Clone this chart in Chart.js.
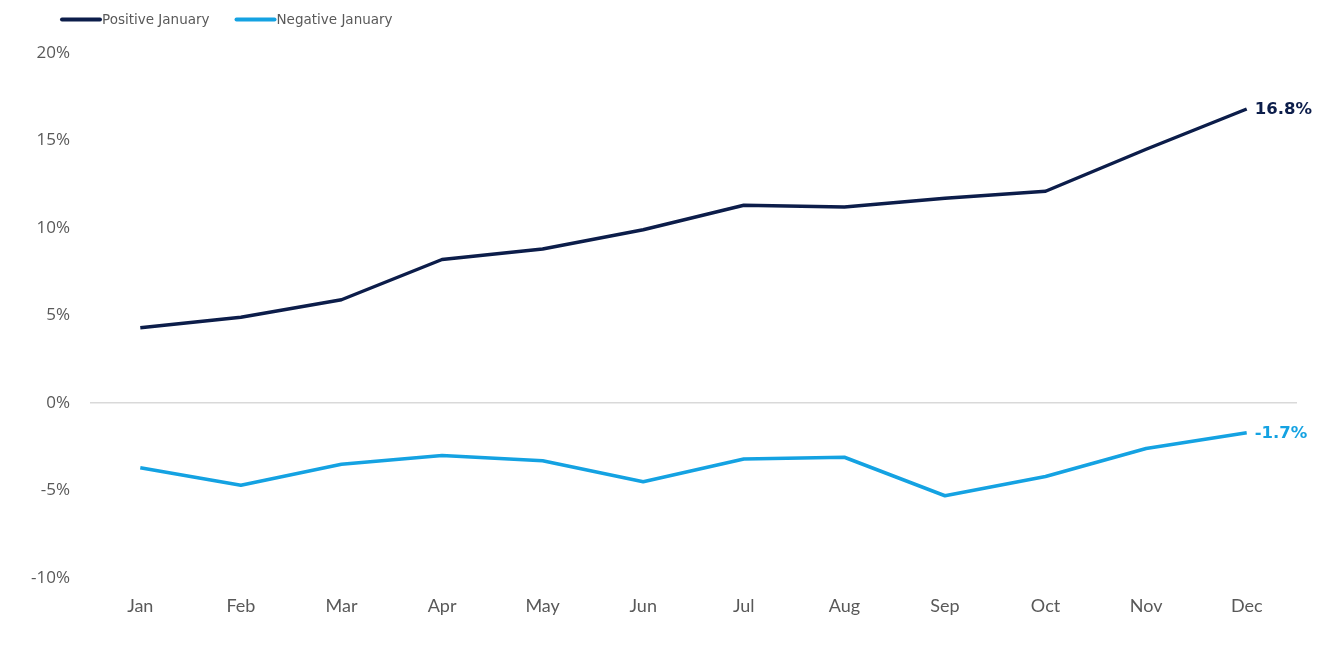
<!DOCTYPE html>
<html>
<head>
<meta charset="utf-8">
<script src="https://cdn.jsdelivr.net/npm/chart.js@4/dist/chart.umd.min.js"></script>
<style>
  html, body { margin: 0; padding: 0; background: #ffffff; }
  #wrap { width: 1335px; height: 646px; position: relative; }
</style>
</head>
<body>
<div id="wrap"><canvas id="c" width="1335" height="646"></canvas></div>
<script>
const categories = ["Jan","Feb","Mar","Apr","May","Jun","Jul","Aug","Sep","Oct","Nov","Dec"];
const positiveJanuary = [4.3, 4.9, 5.9, 8.2, 8.8, 9.9, 11.3, 11.2, 11.7, 12.1, 14.5, 16.8];
const negativeJanuary = [-3.7, -4.7, -3.5, -3.0, -3.3, -4.5, -3.2, -3.1, -5.3, -4.2, -2.6, -1.7];
const seriesLabels = ["Positive January", "Negative January"];
const yTicks = [-10, -5, 0, 5, 10, 15, 20];

const NAVY = "#0c1d4a";
const BLUE = "#14a2e2";
const GREY = "#595959";

const legendPlugin = {
  id: "customLegend",
  afterDraw(chart) {
    const ctx = chart.ctx;
    ctx.save();
    ctx.font = "13.5px 'DejaVu Sans'";
    ctx.textBaseline = "middle";
    ctx.textAlign = "left";
    let x = 62;
    const y = 19.5;
    chart.data.datasets.forEach(ds => {
      ctx.strokeStyle = ds.borderColor;
      ctx.lineWidth = 4;
      ctx.lineCap = "round";
      ctx.beginPath();
      ctx.moveTo(x, y);
      ctx.lineTo(x + 38, y);
      ctx.stroke();
      ctx.fillStyle = GREY;
      ctx.fillText(ds.label, x + 40, y + 1);
      x += 40 + ctx.measureText(ds.label).width + 27;
    });
    ctx.restore();
  }
};

const endLabelPlugin = {
  id: "endLabels",
  afterDatasetsDraw(chart) {
    const ctx = chart.ctx;
    ctx.save();
    ctx.font = "bold 16.5px 'DejaVu Sans'";
    ctx.textBaseline = "middle";
    ctx.textAlign = "left";
    chart.data.datasets.forEach((ds, i) => {
      const meta = chart.getDatasetMeta(i);
      const last = meta.data[meta.data.length - 1];
      const v = ds.data[ds.data.length - 1];
      ctx.fillStyle = ds.borderColor;
      ctx.fillText(v.toFixed(1) + "%", last.x + 8, last.y + 1);
    });
    ctx.restore();
  }
};

new Chart(document.getElementById("c"), {
  type: "line",
  data: {
    labels: categories,
    datasets: [
      { label: seriesLabels[0], data: positiveJanuary, borderColor: NAVY, backgroundColor: NAVY,
        borderWidth: 3.5, pointRadius: 0, tension: 0, borderJoinStyle: "round" },
      { label: seriesLabels[1], data: negativeJanuary, borderColor: BLUE, backgroundColor: BLUE,
        borderWidth: 3.5, pointRadius: 0, tension: 0, borderJoinStyle: "round" }
    ]
  },
  options: {
    responsive: false,
    animation: false,
    layout: { padding: { top: 53, right: 38, left: 0, bottom: 0 } },
    plugins: {
      legend: { display: false },
      tooltip: { enabled: false }
    },
    scales: {
      x: {
        offset: true,
        grid: { display: false, drawTicks: false },
        border: { display: false },
        ticks: { color: GREY, font: { family: "Lato", size: 18 }, padding: 17, maxRotation: 0 },
        afterFit(scale) { scale.height = 646 - 578; }
      },
      y: {
        min: -10, max: 20,
        afterBuildTicks(scale) { scale.ticks = yTicks.map(v => ({ value: v })); },
        grid: {
          drawTicks: false,
          lineWidth: ctx => (ctx.tick && ctx.tick.value === 0 ? 1.5 : 0),
          color: ctx => (ctx.tick && ctx.tick.value === 0 ? "#d9d9d9" : "rgba(0,0,0,0)")
        },
        border: { display: false },
        ticks: {
          color: GREY, font: { family: "Open Sans", size: 17 }, padding: 20,
          callback: v => v + "%"
        },
        afterFit(scale) { scale.width = 90; }
      }
    }
  },
  plugins: [legendPlugin, endLabelPlugin]
});
</script>
</body>
</html>
